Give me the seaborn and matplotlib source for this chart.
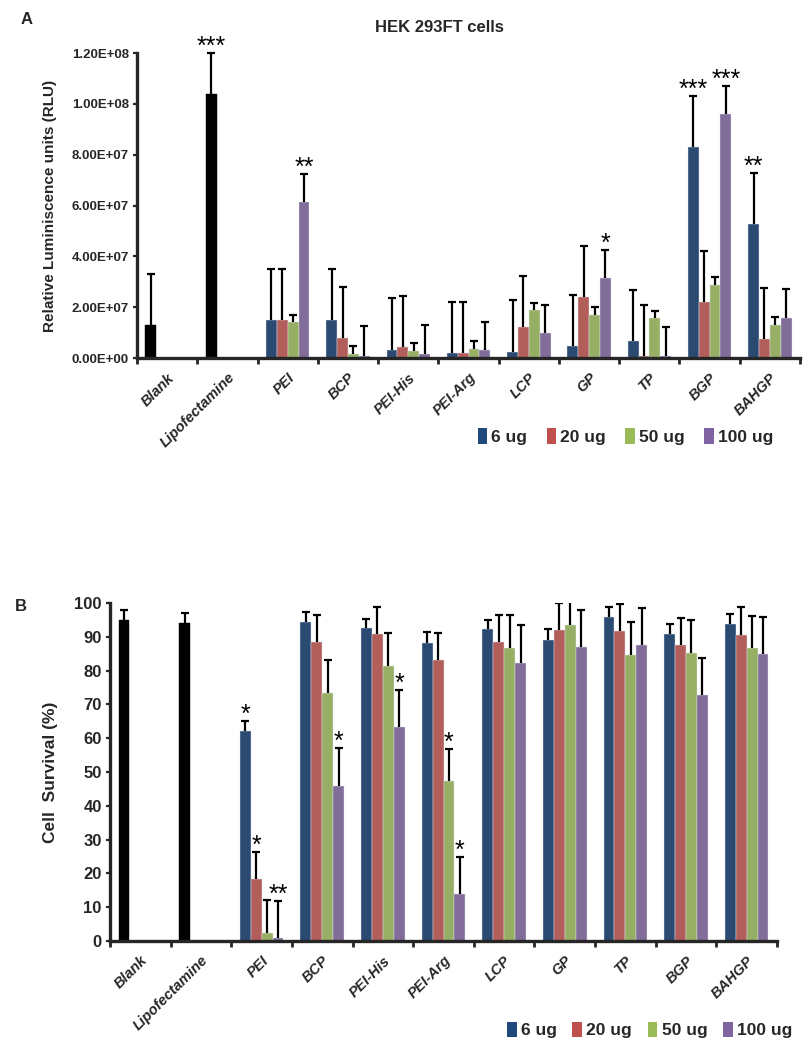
"""
Transfection efficiency (luciferase) and cell survival of HEK 293FT cells
for the polymer series at four doses.
"""

import numpy as np
import pandas as pd
import matplotlib
matplotlib.use('Agg')
import matplotlib.pyplot as plt
from matplotlib.patches import Patch
from matplotlib.ticker import FuncFormatter, FixedLocator
import seaborn as sns

# =========================================================================
# Data
# =========================================================================
categories = ['Blank', 'Lipofectamine', 'PEI', 'BCP', 'PEI-His', 'PEI-Arg',
              'LCP', 'GP', 'TP', 'BGP', 'BAHGP']
doses = ['6 ug', '20 ug', '50 ug', '100 ug']
dose_colors = ['#1F497D', '#C0504D', '#9BBB59', '#8064A2']
controls = ['Blank', 'Lipofectamine']

# Panel A - relative luminescence units (mean), controls only have one value
rlu_6 = [1.3e7, 1.04e8, 1.5e7, 1.5e7, 3.3e6, 2.0e6, 2.5e6, 4.8e6, 6.8e6, 8.3e7, 5.28e7]
rlu_20 = [None, None, 1.5e7, 8.0e6, 4.3e6, 2.0e6, 1.22e7, 2.4e7, 8.0e5, 2.2e7, 7.5e6]
rlu_50 = [None, None, 1.4e7, 1.7e6, 2.8e6, 3.6e6, 1.9e7, 1.7e7, 1.57e7, 2.87e7, 1.3e7]
rlu_100 = [None, None, 6.15e7, 1.0e6, 1.7e6, 3.0e6, 9.7e6, 3.15e7, 1.0e6, 9.6e7, 1.58e7]

rlu_sd_6 = [2.0e7, 1.6e7, 2.0e7, 2.0e7, 2.02e7, 2.02e7, 2.03e7, 2.0e7, 2.0e7, 2.0e7, 2.0e7]
rlu_sd_20 = [None, None, 2.0e7, 2.0e7, 2.02e7, 2.02e7, 2.0e7, 2.0e7, 2.0e7, 2.0e7, 2.0e7]
rlu_sd_50 = [None, None, 3.0e6, 3.1e6, 3.2e6, 3.2e6, 2.8e6, 3.0e6, 2.8e6, 3.0e6, 3.0e6]
rlu_sd_100 = [None, None, 1.1e7, 1.15e7, 1.13e7, 1.13e7, 1.1e7, 1.1e7, 1.12e7, 1.1e7, 1.12e7]

rlu_stars = [('Lipofectamine', '6 ug', '***'), ('PEI', '100 ug', '**'),
             ('GP', '100 ug', '*'), ('BGP', '6 ug', '***'),
             ('BGP', '100 ug', '***'), ('BAHGP', '6 ug', '**')]

# Panel B - cell survival (%)
surv_6 = [95.0, 94.0, 62.0, 94.4, 92.5, 88.3, 92.2, 89.2, 95.9, 90.9, 93.9]
surv_20 = [None, None, 18.3, 88.4, 90.8, 83.2, 88.5, 92.1, 91.7, 87.5, 90.6]
surv_50 = [None, None, 2.5, 73.3, 81.4, 47.2, 86.8, 93.4, 84.6, 85.2, 86.6]
surv_100 = [None, None, 1.0, 46.0, 63.4, 13.8, 82.3, 87.1, 87.5, 72.8, 84.9]

surv_sd_6 = [2.9, 2.9, 3.1, 2.8, 2.9, 3.0, 2.9, 3.0, 3.0, 3.0, 2.9]
surv_sd_20 = [None, None, 8.0, 8.0, 8.1, 8.0, 8.1, 7.8, 8.0, 8.1, 8.1]
surv_sd_50 = [None, None, 9.6, 9.8, 9.8, 9.7, 9.7, 9.8, 9.7, 9.8, 9.7]
surv_sd_100 = [None, None, 10.9, 11.1, 10.9, 11.0, 11.1, 10.9, 11.1, 10.9, 11.0]

surv_stars = [('PEI', '6 ug', '*'), ('PEI', '20 ug', '*'), ('PEI', '100 ug', '**'),
              ('BCP', '100 ug', '*'), ('PEI-His', '100 ug', '*'),
              ('PEI-Arg', '50 ug', '*'), ('PEI-Arg', '100 ug', '*')]


def to_long(means, sds):
    """Build long-form frame (category, dose, value, sd) skipping empty cells."""
    rows = []
    for dose, m_list, s_list in zip(doses, means, sds):
        for cat, m, s in zip(categories, m_list, s_list):
            if m is None:
                continue
            rows.append({'category': cat, 'dose': dose, 'value': m, 'sd': s})
    return pd.DataFrame(rows)


def draw_panel(ax, df, stars, ylim, clip_err):
    sns.barplot(data=df, x='category', y='value', hue='dose',
                order=categories, hue_order=doses, palette=dose_colors,
                width=0.72, errorbar=None, legend=False,
                edgecolor='#dfe5ef', linewidth=0.3, ax=ax)

    lookup = df.set_index(['category', 'dose'])
    bar_pos = {}
    for p in list(ax.patches):
        w = p.get_width()
        if not np.isfinite(p.get_height()) or w == 0:
            continue
        cx = p.get_x() + w / 2
        ci = int(round(cx))
        di = int(round((cx - ci) / w + (len(doses) - 1) / 2))
        cat, dose = categories[ci], doses[di]
        if cat in controls:
            p.set_facecolor('black')
            p.set_edgecolor('black')
        bar_pos[(cat, dose)] = cx
        row = lookup.loc[(cat, dose)]
        eb = ax.errorbar(cx, row['value'], yerr=[[0], [row['sd']]], fmt='none',
                         ecolor='black', elinewidth=1.6, capsize=3.2, capthick=1.6,
                         clip_on=clip_err, zorder=3)
        # one-sided error bar: hide the cap sitting on the bar top
        for cap in eb[1]:
            if np.isclose(cap.get_ydata()[0], row['value']):
                cap.set_visible(False)

    for cat, dose, txt in stars:
        row = lookup.loc[(cat, dose)]
        ax.annotate(txt, (bar_pos[(cat, dose)], row['value'] + row['sd']),
                    xytext=(0, -0.6), textcoords='offset points',
                    ha='center', va='baseline', fontsize=18, color='black',
                    annotation_clip=False)

    ax.set_xlim(-0.5, len(categories) - 0.5)
    ax.set_ylim(*ylim)
    ax.set_xlabel('')
    sns.despine(ax=ax)
    for side in ['left', 'bottom']:
        ax.spines[side].set_linewidth(2.4)
    ax.xaxis.set_minor_locator(FixedLocator(np.arange(-0.5, len(categories), 1.0)))
    ax.tick_params(axis='x', which='major', length=0, pad=9)
    ax.tick_params(axis='x', which='minor', length=4, width=2, direction='out')
    ax.tick_params(axis='y', length=3, width=1.6, direction='out', pad=3)
    ax.set_xticks(range(len(categories)))
    ax.set_xticklabels(categories, rotation=45, ha='right', rotation_mode='anchor',
                       fontstyle='italic', fontweight='bold', fontsize=10.5)


sns.set_style('ticks')
plt.rcParams['font.family'] = ['Liberation Sans', 'DejaVu Sans']

fig = plt.figure(figsize=(8.06, 10.5), dpi=100)

# =========================================================================
# Panel A - luciferase
# =========================================================================
ax_a = fig.add_axes([0.170, 0.659, 0.8226, 0.2905])
df_a = to_long([rlu_6, rlu_20, rlu_50, rlu_100],
               [rlu_sd_6, rlu_sd_20, rlu_sd_50, rlu_sd_100])
draw_panel(ax_a, df_a, rlu_stars, (0, 1.2e8), clip_err=False)
ax_a.set_yticks(np.arange(0, 1.21e8, 2e7))
ax_a.yaxis.set_major_formatter(FuncFormatter(lambda v, _: f'{v:.2E}'))
for lbl in ax_a.get_yticklabels():
    lbl.set_fontweight('bold')
    lbl.set_fontsize(9.5)
ax_a.set_ylabel('Relative Luminiscence units (RLU)', fontsize=11,
                fontweight='bold', labelpad=10)

fig.text(0.545, 0.974, 'HEK 293FT cells', ha='center', va='center',
         fontsize=12, fontweight='bold')
fig.text(0.025, 0.981, 'A', ha='left', va='center', fontsize=12, fontweight='bold')

handles = [Patch(facecolor=c, edgecolor='none') for c in dose_colors]
fig.legend(handles, doses, loc='center', bbox_to_anchor=(0.776, 0.584), ncol=4,
           frameon=False, handlelength=0.55, handleheight=1.0, handletextpad=0.25,
           columnspacing=1.1, prop={'weight': 'bold', 'size': 12.5})

# =========================================================================
# Panel B - cell survival
# =========================================================================
ax_b = fig.add_axes([0.1365, 0.1038, 0.8275, 0.3219])
df_b = to_long([surv_6, surv_20, surv_50, surv_100],
               [surv_sd_6, surv_sd_20, surv_sd_50, surv_sd_100])
draw_panel(ax_b, df_b, surv_stars, (0, 100), clip_err=True)
ax_b.set_yticks(np.arange(0, 101, 10))
for lbl in ax_b.get_yticklabels():
    lbl.set_fontweight('bold')
    lbl.set_fontsize(12)
ax_b.set_ylabel('Cell  Survival (%)', fontsize=12.5, fontweight='bold', labelpad=12)

fig.text(0.018, 0.422, 'B', ha='left', va='center', fontsize=12, fontweight='bold')

fig.legend(handles, doses, loc='center', bbox_to_anchor=(0.806, 0.019), ncol=4,
           frameon=False, handlelength=0.55, handleheight=1.0, handletextpad=0.25,
           columnspacing=0.9, prop={'weight': 'bold', 'size': 12.5})

fig.savefig('out.png', dpi=100)
plt.close(fig)
